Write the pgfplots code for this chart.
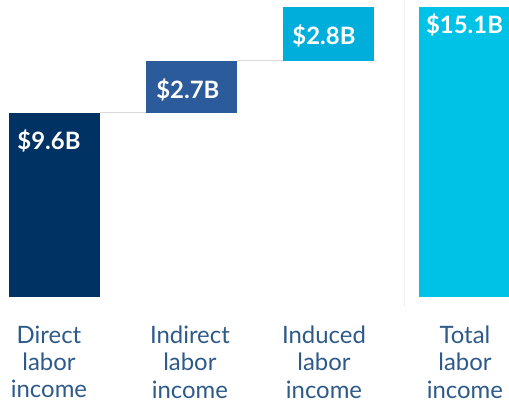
\documentclass[border=0pt]{standalone}
\usepackage{fontspec}
\setmainfont{Lato}
\usepackage{pgfplots}
\pgfplotsset{compat=1.18}

\definecolor{cdirect}{HTML}{003264}
\definecolor{cindirect}{HTML}{2B5B9A}
\definecolor{cinduced}{HTML}{00AEDC}
\definecolor{ctotal}{HTML}{00C2E6}
\definecolor{clabel}{HTML}{2D5A88}

\tikzset{
  catlabel/.style={align=center, anchor=north, inner sep=0pt, text=clabel,
    font=\fontsize{24}{27.5}\selectfont},
  vallabel/.style={anchor=base, inner sep=0pt, text=white,
    font=\bfseries\fontsize{24}{28}\selectfont},
}

\begin{document}
\begin{tikzpicture}
\begin{axis}[
  width=509bp, height=404bp, scale only axis,
  xmin=-0.398, xmax=3.322, ymin=-5.573, ymax=15.47,
  hide axis,
  ybar stacked, reverse stacked plots=false, bar width=0.665,
]
% invisible offsets for the waterfall
\addplot[draw=none, fill=none] coordinates {(0,0)(1,9.6)(2,12.3)(3,0)};
\addplot[draw=none, fill=cdirect]   coordinates {(0,9.6)(1,0)(2,0)(3,0)};
\addplot[draw=none, fill=cindirect] coordinates {(0,0)(1,2.7)(2,0)(3,0)};
\addplot[draw=none, fill=cinduced]  coordinates {(0,0)(1,0)(2,2.8)(3,0)};
\addplot[draw=none, fill=ctotal]    coordinates {(0,0)(1,0)(2,0)(3,15.1)};

% connectors and separator
\addplot[sharp plot, stack plots=false, draw=black!15, line width=1.2bp] coordinates {(0.333,9.6)(0.667,9.6)};
\addplot[sharp plot, stack plots=false, draw=black!15, line width=1.2bp] coordinates {(1.333,12.3)(1.667,12.3)};
\addplot[sharp plot, stack plots=false, draw=black!6, line width=0.8bp] coordinates {(2.555,15.47)(2.555,-0.5)};

\node[vallabel] at (axis cs:-0.04,7.7) {\$9.6B};
\node[vallabel] at (axis cs:0.975,10.36) {\$2.7B};
\node[vallabel] at (axis cs:1.97,13.13) {\$2.8B};
\node[vallabel] at (axis cs:2.997,13.72) {\$15.1B};

\node[catlabel] at (axis cs:-0.04,-1.48) {Direct\\labor\\income};
\node[catlabel] at (axis cs:0.99,-1.48) {Indirect\\labor\\income};
\node[catlabel] at (axis cs:1.97,-1.48) {Induced\\labor\\income};
\node[catlabel] at (axis cs:3.0,-1.48) {Total\\labor\\income};

\path (rel axis cs:0,0) rectangle (rel axis cs:1,1);
\end{axis}
\end{tikzpicture}
\end{document}
